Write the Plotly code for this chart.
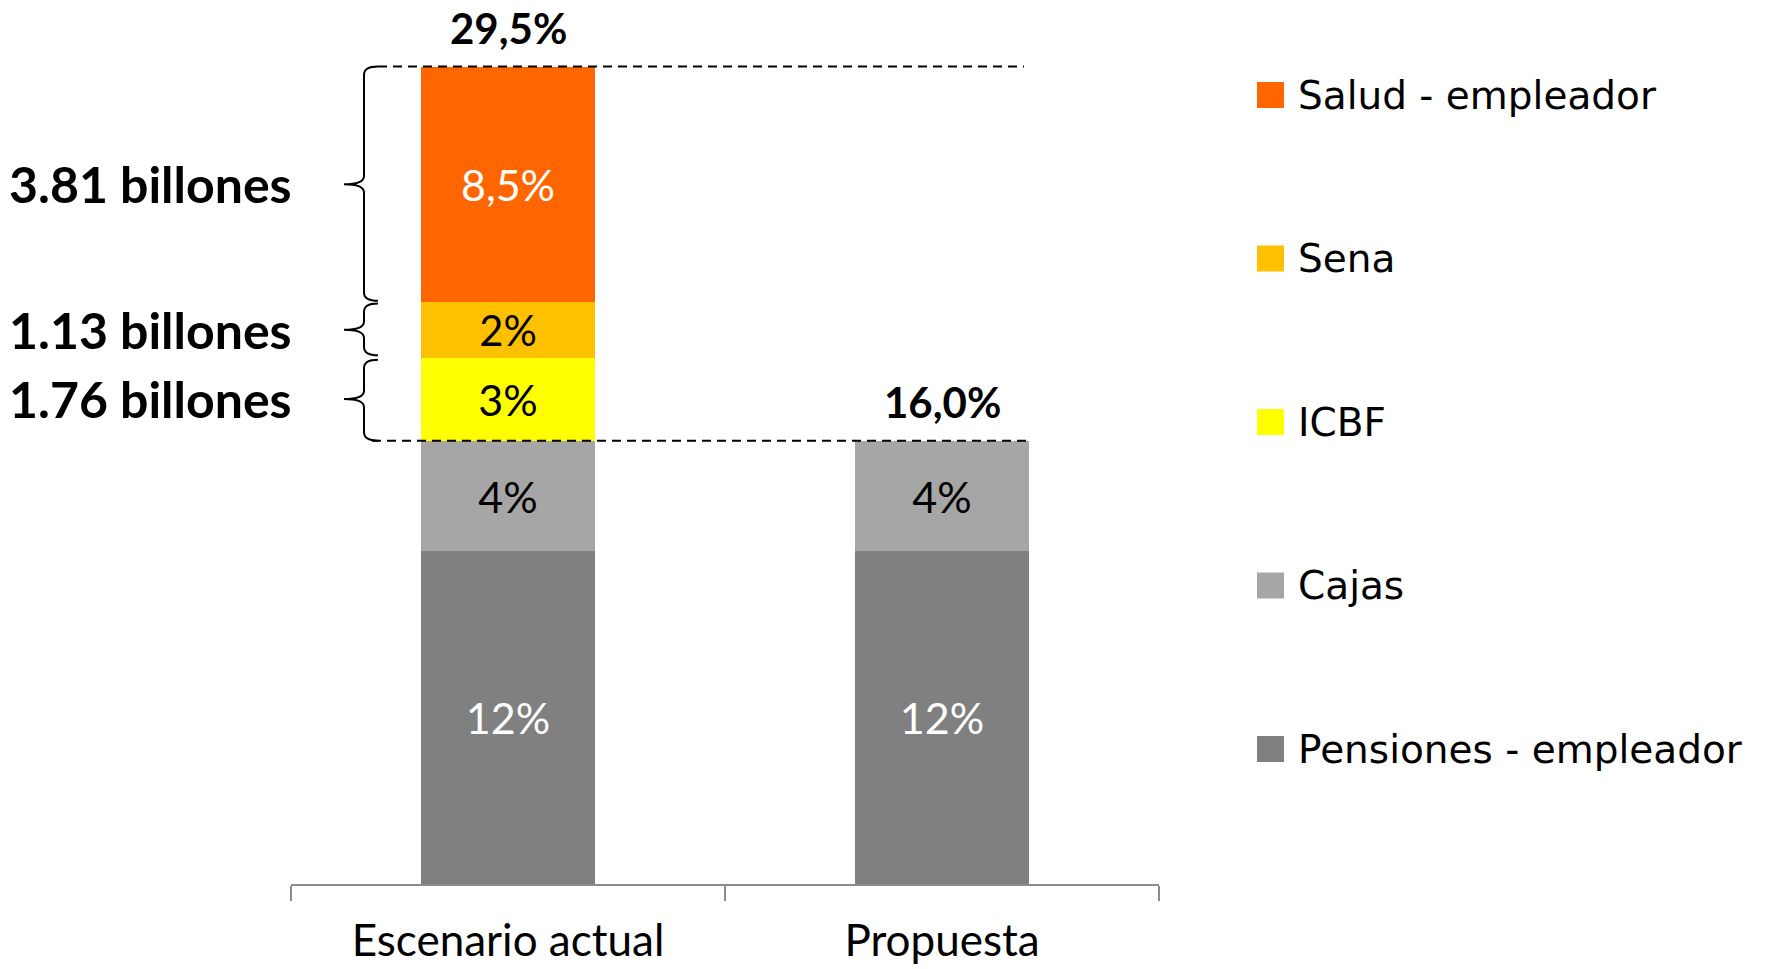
import plotly.graph_objects as go

categories = ["Escenario actual", "Propuesta"]
series_names = ["Pensiones - empleador", "Cajas", "ICBF", "Sena", "Salud - empleador"]
pensiones = [12, 12]
cajas = [4, 4]
icbf = [3, None]
sena = [2, None]
salud = [8.5, None]
brace_labels = ["1.76 billones", "1.13 billones", "3.81 billones"]  # ICBF, Sena, Salud

series_values = [pensiones, cajas, icbf, sena, salud]
colors = ["#808080", "#A6A6A6", "#FFFF00", "#FFC000", "#FF6600"]
text_colors = ["white", "black", "black", "black", "white"]

W, H = 1768, 969
PL, PR, PT, PB = 291, 1159, 20, 884  # plot area in page pixels
ML, MR, MT, MB = PL, W - PR, PT, H - PB
px_per_unit = 27.71
plot_w = PR - PL
plot_h = PB - PT
ymax = plot_h / px_per_unit

LBL_FONT = "Lato, Carlito, Calibri, sans-serif"


def fmt(v, dec=None):
    s = f"{v:g}" if dec is None else f"{v:.{dec}f}"
    return s.replace(".", ",") + "%"


def xp(px):
    return (px - PL) / plot_w


def yp(py):
    return (PB - py) / plot_h


fig = go.Figure()
for name, vals, col, tcol in zip(series_names, series_values, colors, text_colors):
    fig.add_trace(go.Bar(
        x=categories, y=vals, name=name,
        marker=dict(color=col, line=dict(width=0)),
        text=[fmt(v) if v is not None else "" for v in vals],
        textposition="inside", insidetextanchor="middle", textangle=0,
        insidetextfont=dict(family=LBL_FONT, size=43, color=tcol),
        showlegend=False, hoverinfo="x+y+name",
    ))

# totals
totals = [sum(v[i] or 0 for v in series_values) for i in range(len(categories))]
for cat, t in zip(categories, totals):
    fig.add_annotation(x=cat, y=t, text=f"<b>{fmt(t, 1)}</b>", showarrow=False,
                       xref="x", yref="y", yanchor="middle", yshift=39,
                       font=dict(family=LBL_FONT, size=42, color="black"))

# dashed reference lines at the totals
fig.add_shape(type="line", xref="paper", yref="y", x0=xp(378), x1=xp(1024),
              y0=totals[0], y1=totals[0], line=dict(color="black", width=2, dash="9px,6px"))
fig.add_shape(type="line", xref="paper", yref="y", x0=xp(372), x1=xp(1028),
              y0=totals[1], y1=totals[1], line=dict(color="black", width=2, dash="9px,6px"))

# braces for removed contributions
x_tip, x_spine, x_point = xp(378), xp(364), xp(344)
curl = 0.3
base = pensiones[0] + cajas[0]
segs = [icbf[0], sena[0], salud[0]]
bottoms = [base, base + segs[0], base + segs[0] + segs[1]]
insets = [(0.0, 0.08), (0.08, 0.05), (0.05, 0.0)]
for b0, seg, lab, (ib, it) in zip(bottoms, segs, brace_labels, insets):
    yb = b0 + ib
    yt = b0 + seg - it
    ym = b0 + seg / 2
    path = (f"M {x_tip},{yt} Q {x_spine},{yt} {x_spine},{yt - curl} "
            f"L {x_spine},{ym + curl} Q {x_spine},{ym} {x_point},{ym} "
            f"Q {x_spine},{ym} {x_spine},{ym - curl} "
            f"L {x_spine},{yb + curl} Q {x_spine},{yb} {x_tip},{yb}")
    fig.add_shape(type="path", xref="paper", yref="y", path=path,
                  line=dict(color="black", width=2))
    fig.add_annotation(x=xp(294), y=ym, xref="paper", yref="y", text=f"<b>{lab}</b>",
                       showarrow=False, xanchor="right", yanchor="middle",
                       font=dict(family=LBL_FONT, size=50, color="black"))

# manual legend (top to bottom: Salud ... Pensiones)
leg_y0, leg_step = 95, 163.5
for i, (name, col) in enumerate(zip(series_names[::-1], colors[::-1])):
    py = leg_y0 + i * leg_step
    fig.add_shape(type="rect", xref="paper", yref="paper",
                  x0=xp(1257), x1=xp(1284), y0=yp(py + 13), y1=yp(py - 13),
                  fillcolor=col, line=dict(width=0))
    fig.add_annotation(x=xp(1296), y=yp(py), xref="paper", yref="paper",
                       text=name, showarrow=False, xanchor="left", yanchor="middle",
                       font=dict(family="DejaVu Sans", size=39, color="black"))

fig.update_layout(
    barmode="stack", bargap=0.6,
    width=W, height=H,
    margin=dict(l=ML, r=MR, t=MT, b=MB, autoexpand=False),
    paper_bgcolor="white", plot_bgcolor="white",
    showlegend=False,
    xaxis=dict(showline=True, linecolor="#8C8C8C", linewidth=1.5,
               ticks="outside", tickson="boundaries", ticklen=15, tickwidth=1.5,
               tickcolor="#8C8C8C", showgrid=False, automargin=False,
               range=[-0.5, 1.5], ticklabelstandoff=17,
               tickfont=dict(family=LBL_FONT, size=44, color="black")),
    yaxis=dict(visible=False, range=[0, ymax], fixedrange=True),
)

fig.write_html("out.html", config={"displayModeBar": False},
               post_script="document.body.style.margin='0px';document.body.style.overflow='hidden';")
